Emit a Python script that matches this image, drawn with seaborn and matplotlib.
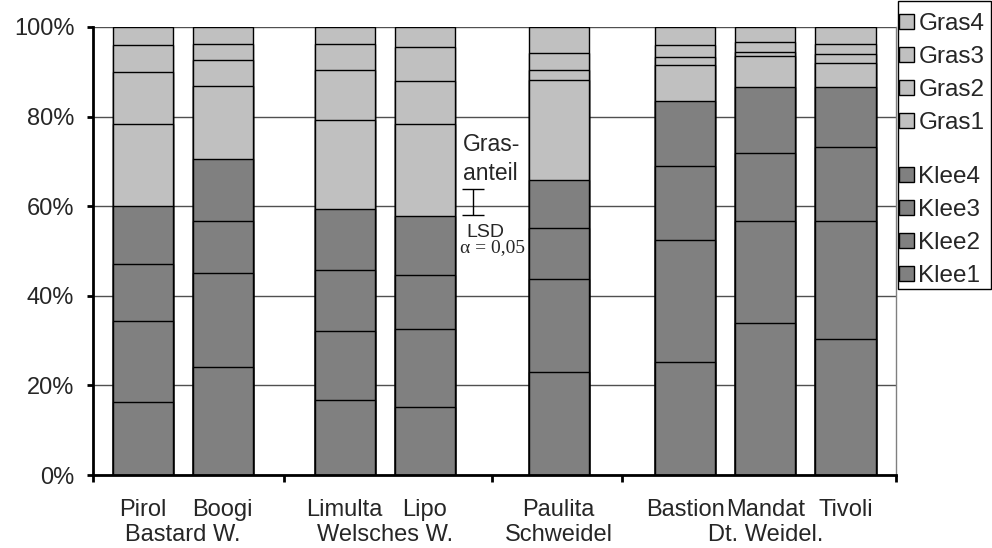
import numpy as np
import matplotlib
matplotlib.use("Agg")
import matplotlib.pyplot as plt
from matplotlib.patches import Patch, Rectangle
from matplotlib.ticker import FuncFormatter
from matplotlib.transforms import blended_transform_factory
import seaborn as sns

# Sorten und Artengruppen
sorten = ["Pirol", "Boogi", "Limulta", "Lipo", "Paulita", "Bastion", "Mandat", "Tivoli"]
gruppen = ["Bastard W.", "Welsches W.", "Schweidel", "Dt. Weidel."]
gruppe_n = [2, 2, 1, 3]

# Anteile je Schicht in % (von unten nach oben)
klee1 = [16.4, 24.0, 16.8, 15.2, 23.0, 25.2, 34.0, 30.4]
klee2 = [17.9, 21.0, 15.4, 17.3, 20.7, 27.2, 22.8, 26.4]
klee3 = [12.8, 11.8, 13.6, 12.1, 11.5, 16.5, 15.1, 16.4]
klee4 = [12.9, 13.7, 13.5, 13.2, 10.6, 14.6, 14.6, 13.3]
gras1 = [18.4, 16.3, 20.0, 20.6, 22.4, 8.1, 7.0, 5.4]
gras2 = [11.5, 5.9, 11.0, 9.6, 2.2, 1.6, 1.0, 2.1]
gras3 = [6.0, 3.5, 5.9, 7.6, 3.9, 2.7, 2.1, 2.3]
gras4 = [4.1, 3.8, 3.8, 4.4, 5.7, 4.1, 3.4, 3.7]
schicht_namen = ["Klee1", "Klee2", "Klee3", "Klee4", "Gras1", "Gras2", "Gras3", "Gras4"]

# LSD (alpha = 0,05) fuer den Grasanteil
lsd_gras = 5.8
lsd_mitte = 60.9

sns.set_style("white")
plt.rcParams["font.family"] = ["Liberation Sans", "DejaVu Sans"]

dunkel = "#808080"
hell = "#c0c0c0"
schichten = [klee1, klee2, klee3, klee4, gras1, gras2, gras3, gras4]
farben = [dunkel] * 4 + [hell] * 4
kum = np.cumsum(np.array(schichten), axis=0)

# x-Positionen: 1 Einheit zwischen Sorten, groessere Luecke zwischen Gruppen
luecken = [1.52, 1.67, 1.58]
pos = []
x = 0.62
for g, n in enumerate(gruppe_n):
    for i in range(n):
        pos.append(x)
        x += 1
    if g < len(luecken):
        x += luecken[g] - 1
x_max = pos[-1] + 0.63

fig = plt.figure(figsize=(9.92, 5.48), dpi=100)
ax = fig.add_axes([93 / 992, 1 - 475 / 548, (896 - 93) / 992, (475 - 27) / 548])

# gestapelt: von der obersten Summe abwaerts uebermalen
for k in reversed(range(len(schichten))):
    sns.barplot(x=pos, y=kum[k], native_scale=True, orient="x", width=0.75,
                color=farben[k], saturation=1, edgecolor="black", linewidth=1.0,
                errorbar=None, ax=ax, zorder=2)

ax.set_xlim(0, x_max)
ax.set_ylim(0, 100)
ax.set_xlabel("")
ax.set_ylabel("")

ax.set_yticks([0, 20, 40, 60, 80, 100])
ax.yaxis.set_major_formatter(FuncFormatter(lambda v, p: f"{v:.0f}%"))
ax.yaxis.grid(True, color="#505050", lw=1)
ax.set_axisbelow(True)
ax.tick_params(axis="y", which="major", left=True, direction="out", length=4.5,
               width=2, labelsize=17, pad=9, color="black")

# Sortennamen als Ticks, Gruppengrenzen als kleine Ticks
ax.set_xticks(pos, sorten)
ax.tick_params(axis="x", which="major", length=0, labelsize=17, pad=17)
grenzen = [0]
i0 = 0
for n in gruppe_n[:-1]:
    grenzen.append((pos[i0 + n - 1] + pos[i0 + n]) / 2)
    i0 += n
grenzen.append(x_max)
ax.set_xticks(grenzen, minor=True)
ax.tick_params(axis="x", which="minor", bottom=True, direction="out", length=5,
               width=2, color="black")

trans = blended_transform_factory(ax.transData, ax.transAxes)
i0 = 0
for name, n in zip(gruppen, gruppe_n):
    mitte = np.mean(pos[i0:i0 + n])
    ax.text(mitte, -0.133, name, transform=trans, ha="center", va="center", fontsize=17)
    i0 += n

for s in ["left", "bottom"]:
    ax.spines[s].set_color("black")
    ax.spines[s].set_linewidth(2)
ax.spines["top"].set_visible(False)
ax.spines["right"].set_color("#808080")
ax.spines["right"].set_linewidth(1)

# LSD-Hinweis
ax.text(4.62, 73.7, "Gras-", ha="left", va="center", fontsize=16.5)
ax.text(4.62, 67.4, "anteil", ha="left", va="center", fontsize=16.5)
ax.errorbar([4.74], [lsd_mitte], yerr=[lsd_gras / 2], fmt="none", ecolor="black",
            elinewidth=1, capsize=8, capthick=1, zorder=3)
ax.text(4.89, 54.2, "LSD", ha="center", va="center", fontsize=14)
ax.text(4.98, 50.7, "α = 0,05", ha="center", va="center", fontsize=14,
        family=["Liberation Serif", "DejaVu Serif"])

# Legende mit Rahmen
fig.add_artist(Rectangle((898 / 992, 1 - 289 / 548), 93 / 992, 288 / 548,
                         transform=fig.transFigure, facecolor="white",
                         edgecolor="black", lw=1, zorder=5))
leg_kw = dict(frameon=False, fontsize=17.5, handlelength=0.6, handleheight=0.6,
              handletextpad=0.2, labelspacing=0.45, borderpad=0, borderaxespad=0, loc="upper left")
gras_h = [Patch(facecolor=hell, edgecolor="black", lw=1) for _ in range(4)]
klee_h = [Patch(facecolor=dunkel, edgecolor="black", lw=1) for _ in range(4)]
leg1 = fig.legend(gras_h, schicht_namen[7:3:-1], bbox_to_anchor=(899 / 992, 1 - 13 / 548), **leg_kw)
leg2 = fig.legend(klee_h, schicht_namen[3::-1], bbox_to_anchor=(899 / 992, 1 - 166 / 548), **leg_kw)
leg1.set_zorder(6)
leg2.set_zorder(6)

fig.savefig("out.png", dpi=100)
